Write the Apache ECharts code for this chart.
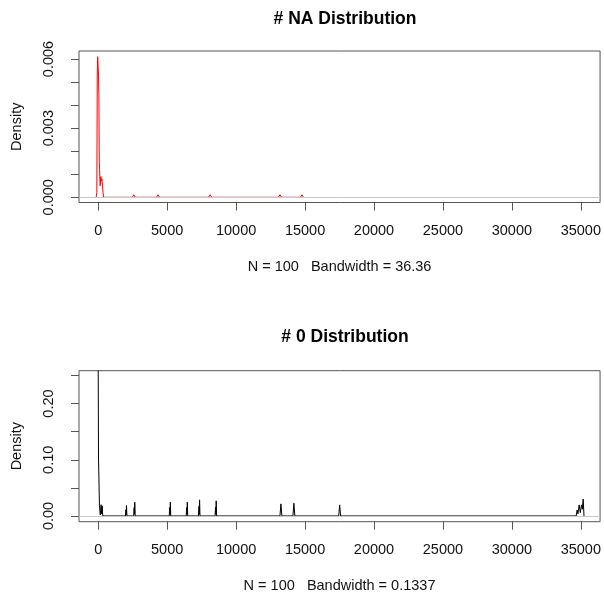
<!DOCTYPE html>
<html>
<head>
<meta charset="utf-8">
<script src="https://cdn.jsdelivr.net/npm/echarts@6/dist/echarts.min.js"></script>
<style>
  html, body { margin: 0; padding: 0; background: #fff; }
  #chart { width: 604px; height: 599px; }
</style>
</head>
<body>
<div id="chart"></div>
<script>
// axis ticks / labels
const xTicks = [0, 5000, 10000, 15000, 20000, 25000, 30000, 35000];
const naYTicks = [0, 0.001, 0.002, 0.003, 0.004, 0.005, 0.006];
const naYLabels = [0, 0.003, 0.006];
const zeroYTicks = [0, 0.05, 0.1, 0.15, 0.2, 0.25];
const zeroYLabels = [0, 0.1, 0.2];

// "# NA" density curve
const naX = [-150, -100, -70, -40, -10, 20, 50, 75, 100, 140, 190, 230, 270, 310, 350, 390, 430,
  2470, 2580, 2690,
  4225, 4335, 4445,
  8010, 8120, 8230,
  13070, 13180, 13290,
  14660, 14770, 14880];
const naY = [0, 0.0002, 0.0053, 0.0061, 0.0061, 0.0053, 0.0044, 0.0015, 0.0012, 0.0005, 0.0009, 0.0007, 0.0008, 0.0008, 0.0002, 0, 0,
  0, 0.00011, 0,
  0, 0.00011, 0,
  0, 0.00011, 0,
  0, 0.00011, 0,
  0, 0.00011, 0];

// "# 0" density curve
const zeroX = [0, 20, 90, 150, 210, 245, 285, 330,
  1970, 2005, 2035, 2050, 2080,
  2570, 2605, 2635, 2650, 2680,
  5150, 5185, 5215, 5230, 5260,
  6380, 6415, 6445, 6460, 6490,
  7270, 7305, 7335, 7350, 7380,
  8475, 8510, 8540, 8555, 8585,
  13180, 13250, 13320,
  14120, 14190, 14260,
  17440, 17510, 17580,
  34660, 34730, 34790, 34880, 34960, 35050, 35110, 35170, 35230];
const zeroY = [0.259, 0.105, 0.018, 0.002, 0.02, 0.004, 0.018, 0,
  0, 0.011, 0.002, 0.0185, 0,
  0, 0.015, 0.003, 0.0245, 0,
  0, 0.015, 0.003, 0.0245, 0,
  0, 0.015, 0.003, 0.0245, 0,
  0, 0.017, 0.003, 0.0287, 0,
  0, 0.016, 0.003, 0.0269, 0,
  0, 0.0215, 0,
  0, 0.0227, 0,
  0, 0.0197, 0,
  0, 0.0107, 0.004, 0.0197, 0.006, 0.0197, 0.012, 0.03, 0];

const FONT = "'Liberation Sans', Arial, sans-serif";
const axisCol = "#555";

function xAxisOpt(idx, sub) {
  return {
    type: "value",
    gridIndex: idx,
    min: -1394,
    max: 36395,
    splitLine: { show: false },
    axisLine: { show: false, onZero: false },
    axisTick: { show: true, length: 8, customValues: xTicks, lineStyle: { color: axisCol } },
    axisLabel: {
      customValues: xTicks,
      margin: 21,
      fontSize: 14.5,
      color: "#111",
      fontFamily: FONT,
      formatter: (v) => String(v),
    },
    name: sub,
    nameLocation: "middle",
    nameGap: 57,
    nameTextStyle: { fontSize: 14.5, color: "#111", fontFamily: FONT },
  };
}

function yAxisOpt(idx, min, max, ticks, labels, digits) {
  return {
    type: "value",
    gridIndex: idx,
    min: min,
    max: max,
    splitLine: { show: false },
    axisLine: { show: false, onZero: false },
    axisTick: { show: true, length: 8, customValues: ticks, lineStyle: { color: axisCol } },
    axisLabel: {
      customValues: labels,
      rotate: 90,
      margin: 23,
      fontSize: 14.5,
      color: "#111",
      fontFamily: FONT,
      formatter: (v) => v.toFixed(digits),
    },
    name: "Density",
    nameLocation: "middle",
    nameRotate: 90,
    nameGap: 55,
    nameTextStyle: { fontSize: 14.5, color: "#111", fontFamily: FONT },
  };
}

function zeroLine(idx) {
  return {
    type: "line",
    xAxisIndex: idx,
    yAxisIndex: idx,
    data: [],
    z: 5,
    silent: true,
    markLine: {
      silent: true,
      symbol: ["none", "none"],
      label: { show: false },
      lineStyle: { color: "#c8c8c8", width: 1, type: "solid" },
      data: [{ yAxis: 0 }],
    },
  };
}

const chart = echarts.init(document.getElementById("chart"), null, { renderer: "canvas" });
chart.setOption({
  animation: false,
  backgroundColor: "#fff",
  title: [
    {
      text: "# NA Distribution",
      left: 340,
      top: 5,
      textAlign: "center",
      textStyle: { fontSize: 17.5, fontWeight: "bold", color: "#000", fontFamily: FONT },
    },
    {
      text: "# 0 Distribution",
      left: 340,
      top: 323,
      textAlign: "center",
      textStyle: { fontSize: 17.5, fontWeight: "bold", color: "#000", fontFamily: FONT },
    },
  ],
  grid: [
    { left: 79, right: 2, top: 51, height: 151.5, show: true, borderColor: axisCol, borderWidth: 1, backgroundColor: "transparent" },
    { left: 79, right: 2, top: 370.7, height: 151, show: true, borderColor: axisCol, borderWidth: 1, backgroundColor: "transparent" },
  ],
  xAxis: [
    xAxisOpt(0, "N = 100   Bandwidth = 36.36"),
    xAxisOpt(1, "N = 100   Bandwidth = 0.1337"),
  ],
  yAxis: [
    yAxisOpt(0, -0.000226, 0.006347, naYTicks, naYLabels, 3),
    yAxisOpt(1, -0.0102, 0.2585, zeroYTicks, zeroYLabels, 2),
  ],
  series: [
    {
      type: "line",
      xAxisIndex: 0,
      yAxisIndex: 0,
      data: naX.map((x, i) => [x, naY[i]]),
      showSymbol: false,
      clip: true,
      lineStyle: { color: "#ff0000", width: 1 },
      z: 2,
    },
    {
      type: "line",
      xAxisIndex: 1,
      yAxisIndex: 1,
      data: zeroX.map((x, i) => [x, zeroY[i]]),
      showSymbol: false,
      clip: true,
      lineStyle: { color: "#000", width: 1 },
      z: 2,
    },
    zeroLine(0),
    zeroLine(1),
  ],
});
</script>
</body>
</html>
